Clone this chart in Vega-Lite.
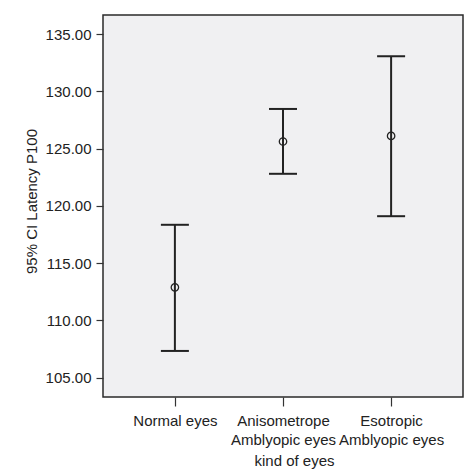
{
  "$schema": "https://vega.github.io/schema/vega-lite/v6.json",
  "autosize": "none",
  "width": 360,
  "height": 382,
  "padding": {"left": 103, "top": 15, "right": 3, "bottom": 77},
  "background": "white",
  "config": {
    "font": "Liberation Sans",
    "view": {"fill": "#f0f0f2", "stroke": "#2a2a2a", "strokeWidth": 1.5},
    "axis": {
      "labelFont": "Liberation Sans",
      "titleFont": "Liberation Sans",
      "labelFontSize": 15,
      "titleFontSize": 15,
      "titleFontWeight": "normal",
      "labelColor": "#222",
      "titleColor": "#222",
      "tickColor": "#333",
      "tickWidth": 1.2,
      "domain": false,
      "grid": false
    }
  },
  "data": {
    "values": [
      {"kind": "Normal eyes", "mean": 112.89, "lower": 107.34, "upper": 118.35},
      {"kind": "Anisometrope Amblyopic eyes", "mean": 125.62, "lower": 122.80, "upper": 128.46},
      {"kind": "Esotropic Amblyopic eyes", "mean": 126.11, "lower": 119.10, "upper": 133.06}
    ]
  },
  "encoding": {
    "x": {
      "field": "kind",
      "type": "nominal",
      "sort": null,
      "scale": {"type": "point", "padding": 0.665},
      "axis": {
        "title": "kind of eyes",
        "labelAngle": 0,
        "tickSize": 9,
        "labelPadding": 7,
        "labelLineHeight": 19,
        "labelBaseline": "top",
        "labelExpr": "datum.value == 'Normal eyes' ? 'Normal eyes' : split(replace(datum.value, ' Amblyopic', '|Amblyopic'), '|')",
        "titleX": 191,
        "titleY": 68,
        "titleBaseline": "alphabetic",
        "titleAnchor": "middle",
        "labelOverlap": false,
        "encode": {
          "labels": {
            "update": {
              "dx": {"signal": "datum.value == 'Anisometrope Amblyopic eyes' ? -6 : 0"}
            }
          }
        }
      }
    }
  },
  "layer": [
    {
      "mark": {"type": "rule", "color": "#222", "strokeWidth": 2},
      "encoding": {
        "y": {
          "field": "lower",
          "type": "quantitative",
          "scale": {"domain": [103.32, 136.66], "nice": false, "zero": false},
          "axis": {
            "title": "95% CI Latency P100",
            "values": [105, 110, 115, 120, 125, 130, 135],
            "format": ".2f",
            "tickSize": 7,
            "labelPadding": 5,
            "titleX": -64,
            "titleY": 186,
            "titleAngle": -90
          }
        },
        "y2": {"field": "upper"}
      }
    },
    {
      "mark": {"type": "tick", "color": "#222", "thickness": 2, "size": 28, "orient": "horizontal", "opacity": 1},
      "encoding": {"y": {"field": "lower", "type": "quantitative"}}
    },
    {
      "mark": {"type": "tick", "color": "#222", "thickness": 2, "size": 28, "orient": "horizontal", "opacity": 1},
      "encoding": {"y": {"field": "upper", "type": "quantitative"}}
    },
    {
      "mark": {"type": "point", "shape": "circle", "filled": false, "color": "#222", "strokeWidth": 1.3, "size": 55, "opacity": 1},
      "encoding": {"y": {"field": "mean", "type": "quantitative"}}
    }
  ]
}
